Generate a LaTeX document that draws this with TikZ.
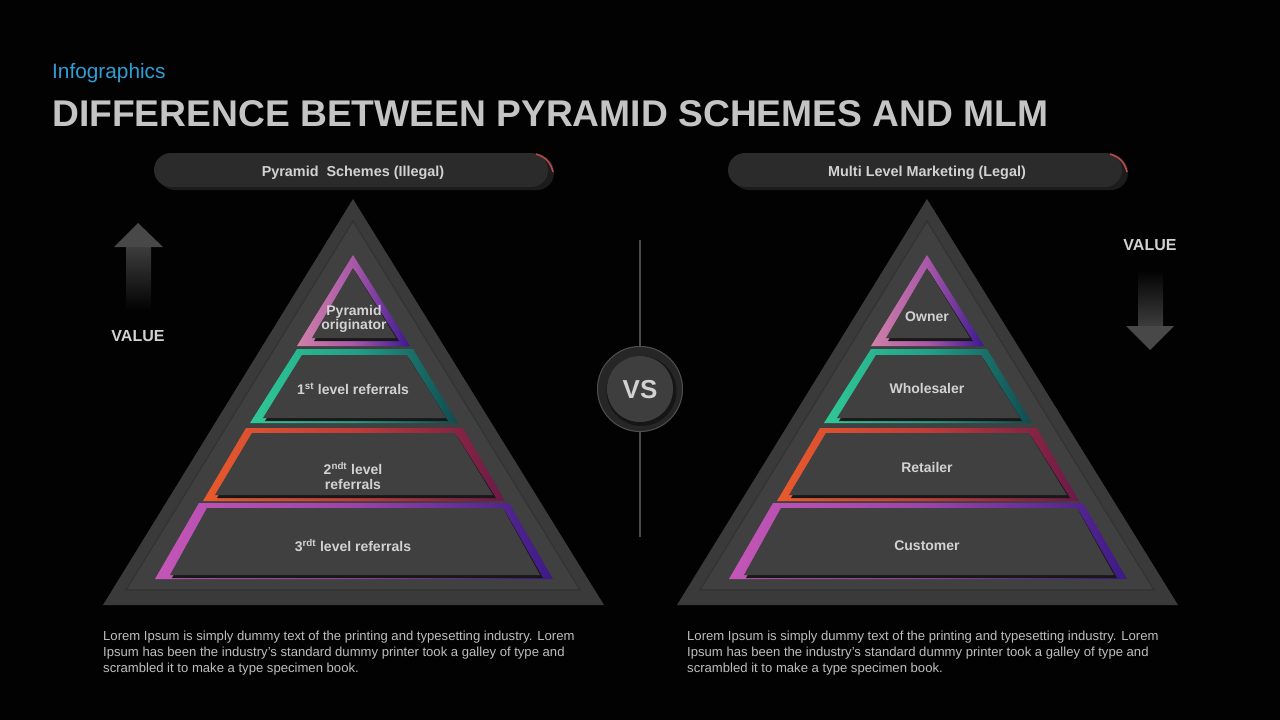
\documentclass[tikz,border=0pt]{standalone}
\usepackage{fontspec}
\setmainfont{Liberation Sans}
\definecolor{bg}{HTML}{020202}
\definecolor{titlec}{HTML}{C4C4C4}
\definecolor{subc}{HTML}{2E9FD6}
\definecolor{bodyc}{HTML}{BEBEBE}
\definecolor{lblc}{HTML}{D2D2D2}
\definecolor{pyrout}{HTML}{3A3A3A}
\definecolor{pyrin}{HTML}{404040}
\definecolor{pyredge}{HTML}{323232}
\definecolor{layer}{HTML}{404040}
\definecolor{shadowc}{HTML}{181818}
\definecolor{pinkA}{HTML}{D080A8}
\definecolor{indigoA}{HTML}{3A1890}
\definecolor{purpA}{HTML}{A858A8}
\definecolor{greenA}{HTML}{2FC896}
\definecolor{tealA}{HTML}{22A088}
\definecolor{tealB}{HTML}{124A50}
\definecolor{orangeA}{HTML}{E85A2C}
\definecolor{redA}{HTML}{C03C38}
\definecolor{wineA}{HTML}{6A1A48}
\definecolor{magA}{HTML}{C456B6}
\definecolor{magB}{HTML}{9A44AA}
\definecolor{violA}{HTML}{3C1A86}
\definecolor{pillc}{HTML}{2C2B2C}
\definecolor{pillsh}{HTML}{1C1C1C}
\definecolor{pillred}{HTML}{B84A4A}
\definecolor{arrowc}{HTML}{484848}
\definecolor{vsline}{HTML}{4A4A4A}
\definecolor{vsouter}{HTML}{262626}
\definecolor{vsrim}{HTML}{4E4E4E}
\definecolor{vsshadow}{HTML}{161616}
\definecolor{vsinner}{HTML}{3E3E3E}
\tikzset{
  lbl/.style={text=lblc, font=\bfseries\fontsize{14}{16}\selectfont, align=center, inner sep=0pt},
  pilltxt/.style={text=lblc, font=\bfseries\fontsize{14.4}{16}\selectfont, inner sep=0pt},
  bodytxt/.style={text=bodyc, font=\fontsize{13.1}{16}\selectfont, align=left, inner sep=0pt, anchor=north west},
  valtxt/.style={text=lblc, font=\bfseries\fontsize{16}{18}\selectfont, inner sep=0pt},
}
\newcommand\mypyramid{%
  % big triangle
  \fill[pyrout] (353,199) -- (604,605) -- (103,605) -- cycle;
  \fill[pyrin, draw=pyredge, line width=1.2pt] (353,221) -- (580,590) -- (126,590) -- cycle;
  % top triangle
  \shade[left color=pinkA, right color=indigoA, middle color=purpA] (353,255) -- (410,346) -- (297,346) -- cycle;
  \fill[shadowc] (355,271) -- (399,341) -- (314,341) -- cycle;
  \fill[layer] (353,268) -- (396,338) -- (312,338) -- cycle;
  % level 1
  \shade[left color=greenA, right color=tealB, middle color=tealA] (297,349) -- (413,349) -- (458,423) -- (250,423) -- cycle;
  \fill[shadowc] (304,358) -- (409,358) -- (448,421) -- (265,421) -- cycle;
  \fill[layer] (302,355) -- (407,355) -- (446,418) -- (263,418) -- cycle;
  % level 2
  \shade[left color=orangeA, right color=wineA, middle color=redA] (246,428) -- (463,428) -- (505,501) -- (203,501) -- cycle;
  \fill[shadowc] (254,436) -- (457,436) -- (496,498) -- (217,498) -- cycle;
  \fill[layer] (252,433) -- (455,433) -- (493,495) -- (215,495) -- cycle;
  % level 3
  \shade[left color=magA, right color=violA, middle color=magB] (199,503) -- (509,503) -- (553,579) -- (155,579) -- cycle;
  \fill[shadowc] (209,511) -- (505,511) -- (543,578) -- (172,578) -- cycle;
  \fill[layer] (207,508) -- (503,508) -- (540,575) -- (170,575) -- cycle;
  % header pill
  \fill[pillsh, rounded corners=17pt] (158,155) rectangle (554,190);
  \fill[pillc, rounded corners=17pt] (154,153) rectangle (548,187);
  \draw[pillred, line width=1.6pt] (536,154) .. controls (546,157) and (551,163) .. (553,172);
}
\begin{document}
\begin{tikzpicture}[x=1pt,y=-1pt]
\fill[bg] (0,0) rectangle (1280,720);
\useasboundingbox (0,0) rectangle (1280,720);

% titles
\node[anchor=base west, text=subc, font=\fontsize{20.8}{22}\selectfont, inner sep=0pt] (sub) at (52,78) {Infographics};
\node[anchor=base west, text=titlec, font=\bfseries\fontsize{37.2}{40}\selectfont, inner sep=0pt] (title) at (52,126) {DIFFERENCE BETWEEN PYRAMID SCHEMES AND MLM};

% pyramids
\mypyramid
\begin{scope}[xshift=574pt]
\mypyramid
\end{scope}

% pill labels
\node[pilltxt] (hl) at (353,172.5) {Pyramid\ \ Schemes (Illegal)};
\node[pilltxt] (hr) at (927,172.5) {Multi Level Marketing (Legal)};

% left labels
\node[lbl] (l0) at (354,319) {Pyramid\\[-1.5pt]originator};
\node[lbl] (l1) at (353,388.5) {1\textsuperscript{st} level referrals};
\node[lbl] (l2) at (353,476) {2\textsuperscript{ndt} level\\[-1.5pt]referrals};
\node[lbl] (l3) at (353,545.5) {3\textsuperscript{rdt} level referrals};
% right labels
\node[lbl] (r0) at (927,316.5) {Owner};
\node[lbl] (r1) at (927,388.5) {Wholesaler};
\node[lbl] (r2) at (927,467.5) {Retailer};
\node[lbl] (r3) at (927,545.5) {Customer};

% vs
\draw[vsline, line width=2pt] (640,240) -- (640,537);
\fill[vsouter] (640,389) circle[radius=43pt];
\draw[vsrim, line width=1pt] (640,389) circle[radius=42.5pt];
\fill[vsshadow] (641.5,391) circle[radius=35pt];
\fill[vsinner] (640,389) circle[radius=33pt];
\node[text=lblc, font=\bfseries\fontsize{26}{28}\selectfont, inner sep=0pt] (vs) at (640,390) {VS};

% value arrows
\shade[top color=arrowc!85!black, bottom color=bg] (126,246) rectangle (151,310);
\fill[arrowc] (138,223) -- (163,247) -- (114,247) -- cycle;
\node[valtxt] (vl) at (138,336) {VALUE};
\shade[top color=bg, bottom color=arrowc!85!black] (1138,270) rectangle (1163,327);
\fill[arrowc] (1126,326) -- (1174,326) -- (1150,350) -- cycle;
\node[valtxt] (vr) at (1150,245) {VALUE};

% body text
\node[bodytxt] (bl) at (103,631) {Lorem Ipsum is simply dummy text of the printing and typesetting industry. Lorem\\Ipsum has been the industry's standard dummy printer took a galley of type and\\scrambled it to make a type specimen book.};
\node[bodytxt] (br) at (687,631) {Lorem Ipsum is simply dummy text of the printing and typesetting industry. Lorem\\Ipsum has been the industry's standard dummy printer took a galley of type and\\scrambled it to make a type specimen book.};
\end{tikzpicture}
\end{document}
